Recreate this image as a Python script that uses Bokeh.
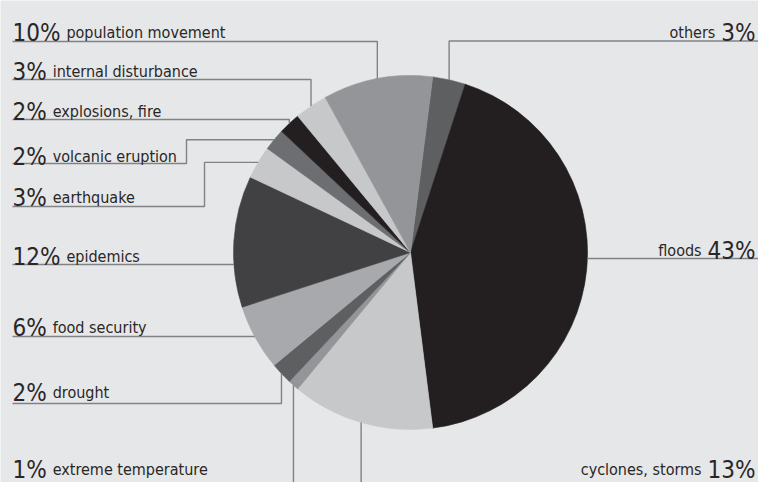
import math
from bokeh.plotting import figure
from bokeh.models import Range1d, ColumnDataSource
from bokeh.core.properties import value
from bokeh.embed import file_html
from bokeh.resources import INLINE

# ---------------- data ----------------
categories = ["others", "floods", "cyclones, storms", "extreme temperature", "drought",
              "food security", "epidemics", "earthquake", "volcanic eruption",
              "explosions, fire", "internal disturbance", "population movement"]
shares = [3, 43, 13, 1, 2, 6, 12, 3, 2, 2, 3, 10]

# ---------------- style / layout ----------------
slice_colors = ["#5e5f61", "#231f20", "#c7c8ca", "#939598", "#5e5f61", "#a7a9ac",
                "#414042", "#c7c8ca", "#6d6e71", "#231f20", "#c7c8ca", "#939598"]
label_side = ["R", "R", "R", "L", "L", "L", "L", "L", "L", "L", "L", "L"]
line_y_px = [40.5, 258, 492, 492, 403, 336, 264, 206, 163, 119, 79, 41]
text_y_px = [32, 250, 469, 469, 392, 327, 256, 197, 156, 111, 71, 32]
leader_kind = ["hv", "h", "hv", "hv", "hv", "h", "h", "step", "step", "hv", "hv", "hv"]
step_x_px = [None, None, None, None, None, None, None, 204, 186, None, None, None]

BG = "#e6e7e8"
TEXT = "#2a2627"
LEADER = "#808285"
FONT = "DejaVu Sans Condensed"
W, H = 758, 482
CX, CY_PX, R = 410, 252, 177
START_DEG = 7.2          # clockwise from 12 o'clock
LEFT_X, RIGHT_X = 12, 755
PCT_SIZE, NAME_SIZE = 24, 16
DIGIT_W, PCTSIGN_W, GAP = 13.7, 20.5, 6


def Y(py):
    return H - py


CY = Y(CY_PX)

p = figure(width=W, height=H, output_backend="svg", toolbar_location=None,
           x_range=Range1d(0, W), y_range=Range1d(0, H),
           min_border=0, background_fill_color=BG, border_fill_color=BG,
           outline_line_color=None)
p.axis.visible = False
p.grid.visible = False

# wedges
total = sum(shares)
starts, ends, mids = [], [], []
cum = START_DEG
for s in shares:
    span = 360.0 * s / total
    a_start = 90 - cum
    a_end = 90 - (cum + span)
    starts.append(math.radians(a_end))
    ends.append(math.radians(a_start))
    mids.append(math.radians(90 - (cum + span / 2)))
    cum += span

src = ColumnDataSource(dict(start=starts, end=ends, color=slice_colors))
p.wedge(x=CX, y=CY, radius=R, start_angle="start", end_angle="end",
        direction="anticlock", fill_color="color", line_color="color",
        line_width=0.6, source=src)

# leader lines
xs, ys = [], []
for i in range(len(categories)):
    ly = Y(line_y_px[i])
    side = label_side[i]
    x0 = LEFT_X if side == "L" else W
    if leader_kind[i] == "h":
        dy = ly - CY
        dx = math.sqrt(max(R * R - dy * dy, 0))
        ex = CX - dx if side == "L" else CX + dx
        xs.append([x0, ex]); ys.append([ly, ly])
    else:
        ex = CX + R * math.cos(mids[i])
        ey = CY + R * math.sin(mids[i])
        if leader_kind[i] == "hv":
            xs.append([x0, ex, ex]); ys.append([ly, ly, ey])
        else:
            sx = step_x_px[i]
            xs.append([x0, sx, sx, ex]); ys.append([ly, ly, ey, ey])
p.multi_line(xs=xs, ys=ys, line_color=LEADER, line_width=1.4)

# labels
pct_text = [f"{s}%" for s in shares]
pct_w = [len(t[:-1]) * DIGIT_W + PCTSIGN_W for t in pct_text]

lp = dict(x=[], y=[], t=[])
ln = dict(x=[], y=[], t=[])
rp = dict(x=[], y=[], t=[])
rn = dict(x=[], y=[], t=[])
for i, c in enumerate(categories):
    ty = Y(text_y_px[i])
    if label_side[i] == "L":
        lp["x"].append(LEFT_X); lp["y"].append(ty); lp["t"].append(pct_text[i])
        ln["x"].append(LEFT_X + pct_w[i] + GAP); ln["y"].append(ty); ln["t"].append(c)
    else:
        rp["x"].append(RIGHT_X); rp["y"].append(ty); rp["t"].append(pct_text[i])
        rn["x"].append(RIGHT_X - pct_w[i] - GAP); rn["y"].append(ty); rn["t"].append(c)

for d, align, size in [(lp, "left", PCT_SIZE), (ln, "left", NAME_SIZE),
                       (rp, "right", PCT_SIZE), (rn, "right", NAME_SIZE)]:
    p.text(x="x", y="y", text="t", source=ColumnDataSource(d),
           text_font=value(FONT), text_font_size=f"{size}px", text_color=TEXT,
           text_align=align, text_baseline="alphabetic")

html = file_html(p, INLINE)
html = html.replace("<body>", f'<body style="background-color:{BG};">', 1)
open("out.html", "w").write(html)
